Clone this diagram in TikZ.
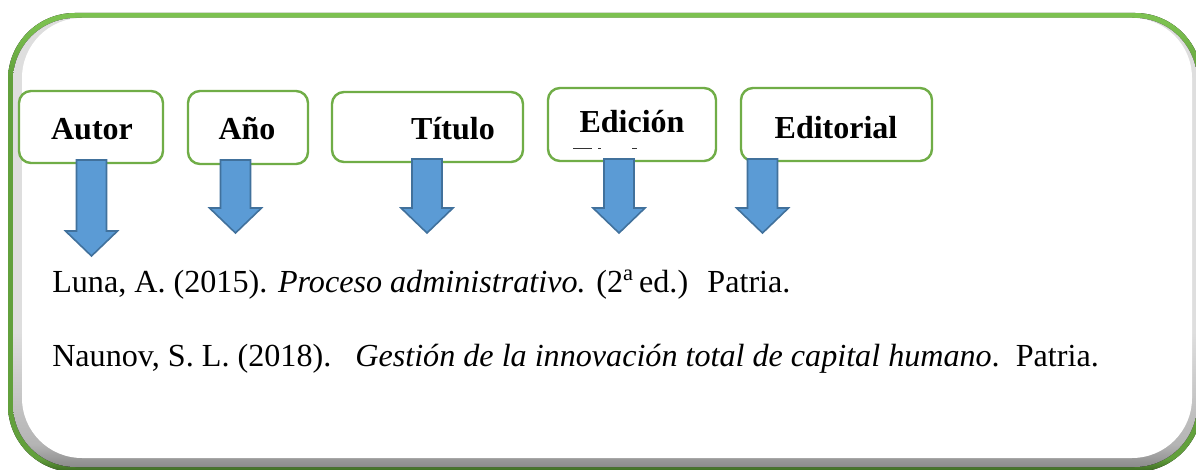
\documentclass[tikz,border=0pt]{standalone}
\usepackage{fontspec}
\setmainfont{Liberation Serif}
\usetikzlibrary{calc}

\definecolor{boxgreen}{HTML}{70AD47}
\definecolor{framelight}{HTML}{7CC150}
\definecolor{framemid}{HTML}{62A03C}
\definecolor{framedark}{HTML}{3A6622}
\definecolor{graylight}{HTML}{DEDEDE}
\definecolor{graymid}{HTML}{B4B4B4}
\definecolor{graydark}{HTML}{8A8A8A}
\definecolor{arrowblue}{HTML}{5B9BD5}
\definecolor{arrowedge}{HTML}{41719C}

\pgfdeclareverticalshading{framegreen}{100bp}{color(0bp)=(framedark); color(25bp)=(framedark); color(26.5bp)=(framemid); color(68bp)=(framemid); color(74bp)=(framelight); color(100bp)=(framelight)}
\pgfdeclareverticalshading{framegray}{100bp}{color(0bp)=(graydark); color(25bp)=(graydark); color(27.5bp)=(graymid); color(40bp)=(graylight); color(100bp)=(graylight)}

\newcommand{\bibarrow}[2]{\draw[arrowblock] let \p1=(#1), \p2=(#2) in (\x1-11.25pt,\y1) -- (\x1+11.25pt,\y1) -- (\x1+11.25pt,\y2+18.75pt) -- (\x1+19.5pt,\y2+18.75pt) -- (\x1,\y2) -- (\x1-19.5pt,\y2+18.75pt) -- (\x1-11.25pt,\y2+18.75pt) -- cycle;}

\begin{document}
\begin{tikzpicture}[x=0.75pt,y=-0.75pt,
	labelbox/.style={draw=boxgreen, line width=1.8pt, rounded corners=9pt, fill=white, inner sep=0pt},
	labeltext/.style={font=\fontsize{24}{28}\selectfont\bfseries, anchor=base, inner sep=0pt},
	reftext/.style={font=\fontsize{24.1}{28}\selectfont, anchor=base west, inner sep=0pt},
	arrowblock/.style={fill=arrowblue, draw=arrowedge, line width=1.2pt, line join=miter}]

	\useasboundingbox (0,0) rectangle (1196,470);

	\fill[shading=framegreen, rounded corners=50pt] (8,13) rectangle (1202,472);
	\fill[shading=framegray, rounded corners=47pt] (13,18) rectangle (1197,467);
	\fill[white, rounded corners=45pt] (22,18) rectangle (1192,458);

	\node[labelbox, minimum width=108pt, minimum height=54pt] (autor) at (91,127) {};
	\node[labelbox, minimum width=90pt, minimum height=54.75pt] (anio) at (248,127.5) {};
	\node[labelbox, minimum width=143.25pt, minimum height=52.5pt] (titulo) at (427.5,127) {};
	\node[labelbox, minimum width=126pt, minimum height=54.75pt] (edicion) at (632,124.5) {};
	\node[labelbox, minimum width=143.25pt, minimum height=54.75pt] (editorial) at (836.5,124.5) {};

	\node[labeltext] (autor-txt) at (92,140) {Autor};
	\node[labeltext] (anio-txt) at (247,140) {Año};
	\node[labeltext] (titulo-txt) at (453,140) {Título};
	\node[labeltext] (edicion-txt) at (632,133) {Edición};
	\node[labeltext] (editorial-txt) at (836,139) {Editorial};

	\fill[black!80] (573,147.6) rectangle (592,148.8);
	\fill[black!80] (598,147.6) rectangle (600.5,148.8);
	\fill[black!80] (632,147.6) rectangle (637,148.8);

	\coordinate (autor-top) at (91.5,160);
	\coordinate (autor-tip) at (91.5,256);
	\coordinate (anio-top) at (235.5,160);
	\coordinate (anio-tip) at (235.5,233);
	\coordinate (titulo-top) at (427,159);
	\coordinate (titulo-tip) at (427,233);
	\coordinate (edicion-top) at (619,159);
	\coordinate (edicion-tip) at (619,233);
	\coordinate (editorial-top) at (762.5,159);
	\coordinate (editorial-tip) at (762.5,233);

	\bibarrow{autor-top}{autor-tip}
	\bibarrow{anio-top}{anio-tip}
	\bibarrow{titulo-top}{titulo-tip}
	\bibarrow{edicion-top}{edicion-tip}
	\bibarrow{editorial-top}{editorial-tip}

	\node[reftext] (luna) at (52,293) {Luna, A. (2015). \textit{Proceso administrativo.} (2\textsuperscript{a}\,ed.)\hspace{0.6em}Patria.};
	\node[reftext] (naunov) at (52,367) {Naunov, S. L. (2018).\hspace{0.75em}\textit{Gestión de la innovación total de capital humano}.\hspace{0.5em}Patria.};

\end{tikzpicture}
\end{document}
